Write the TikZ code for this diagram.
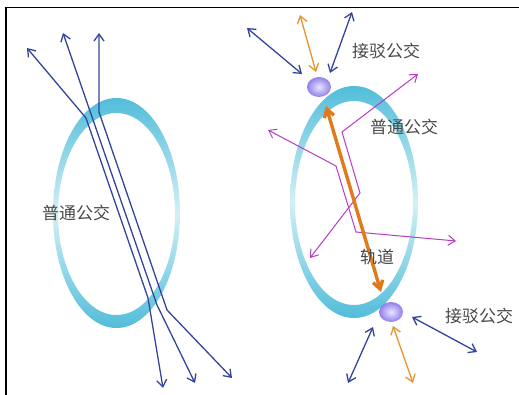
\documentclass[tikz,border=0pt]{standalone}
\usepackage{fontspec}
\newfontfamily\cjk{Noto Sans CJK SC}
\usetikzlibrary{arrows.meta,shapes.geometric}
\definecolor{busblue}{HTML}{34449C}
\definecolor{railorange}{HTML}{E07A1C}
\definecolor{feedorange}{HTML}{E3952F}
\definecolor{routemag}{HTML}{B43DC4}
\definecolor{ringdark}{HTML}{52BDDA}
\definecolor{ringpale}{HTML}{D3F0F6}
\definecolor{labelgray}{HTML}{484848}
\definecolor{stopedge}{HTML}{9280EA}
\definecolor{stopcore}{HTML}{EAE5FF}
\begin{document}
\begin{tikzpicture}[x=1pt,y=-1pt,
  tip/.tip={Straight Barb[length=7pt,width=10pt]},
  bigtip/.tip={Straight Barb[length=8pt,width=10pt]},
  busline/.style={busblue, line width=1.3pt, line join=round},
  feeder/.style={line width=1.3pt, tip-tip},
  route/.style={routemag, line width=1pt, line join=miter, tip-tip},
  rail/.style={railorange, line width=3.4pt, bigtip-bigtip},
  stop/.style={ellipse, minimum width=24pt, minimum height=20pt, inner sep=0pt,
    inner color=stopcore, outer color=stopedge},
  label/.style={font=\cjk\fontsize{17}{17}\selectfont, text=labelgray, inner sep=0pt},
  ring/.style={even odd rule, top color=ringdark, bottom color=ringdark, middle color=ringpale}
]
\useasboundingbox (0,0) rectangle (519,395);

% frame
\draw[line width=1.8pt] (6,395) -- (6,7.5) -- (519,7.5);

% rings
\shade[ring] (116.5,213) ellipse [x radius=63.5pt, y radius=115pt]
             (116.5,214) ellipse [x radius=58.5pt, y radius=101pt];
\shade[ring] (354,202) ellipse [x radius=64pt, y radius=116pt]
             (354,203) ellipse [x radius=59pt, y radius=102pt];

% ordinary bus lines crossing the left ring
\coordinate (l1a) at (27,48);  \coordinate (l1b) at (86,118);
\coordinate (l1c) at (148,298); \coordinate (l1d) at (163,388);
\coordinate (l2a) at (63,33);  \coordinate (l2c) at (157,305);
\coordinate (l2d) at (195,383);
\coordinate (l3a) at (99,33);  \coordinate (l3b) at (99,112);
\coordinate (l3c) at (167,310); \coordinate (l3d) at (232,378);
\draw[busline, tip-tip] (l1a) -- (l1b) -- (l1c) -- (l1d);
\draw[busline, tip-tip] (l2a) -- (l2c) -- (l2d);
\draw[busline, tip-tip] (l3a) -- (l3b) -- (l3c) -- (l3d);

\node[label] (lgen) at (76,213) {普通公交};

% ordinary bus routes around the right ring
\coordinate (ra1) at (268,130); \coordinate (ra2) at (336,166);
\coordinate (ra3) at (356,232); \coordinate (ra4) at (456,241);
\draw[route] (ra1) -- (ra2) -- (ra3) -- (ra4);
\coordinate (rb1) at (418,74);  \coordinate (rb2) at (342,132);
\coordinate (rb3) at (360,193); \coordinate (rb4) at (310,258);
\draw[route] (rb1) -- (rb2) -- (rb3) -- (rb4);

% rail line
\coordinate (railtop) at (326,106);
\coordinate (railbot) at (381,292);
\draw[rail] (railtop) -- (railbot);

% stations
\node[stop] (stopN) at (319,87) {};
\node[stop] (stopS) at (391,312) {};

% feeder bus links
\coordinate (n1a) at (247,28);  \coordinate (n1b) at (302,74);
\coordinate (n2a) at (300,15);  \coordinate (n2b) at (316,72);
\coordinate (n3a) at (352,12);  \coordinate (n3b) at (330,73);
\draw[feeder, busblue] (n1a) -- (n1b);
\draw[feeder, feedorange] (n2a) -- (n2b);
\draw[feeder, busblue] (n3a) -- (n3b);
\coordinate (s1a) at (373,327); \coordinate (s1b) at (348,383);
\coordinate (s2a) at (393,326); \coordinate (s2b) at (413,383);
\coordinate (s3a) at (412,317); \coordinate (s3b) at (477,352);
\draw[feeder, busblue] (s1a) -- (s1b);
\draw[feeder, feedorange] (s2a) -- (s2b);
\draw[feeder, busblue] (s3a) -- (s3b);

% labels
\node[label] (rgen) at (404,127) {普通公交};
\node[label] (feedN) at (386,51) {接驳公交};
\node[label] (railL) at (377,257) {轨道};
\node[label] (feedS) at (479,316) {接驳公交};
\end{tikzpicture}
\end{document}
